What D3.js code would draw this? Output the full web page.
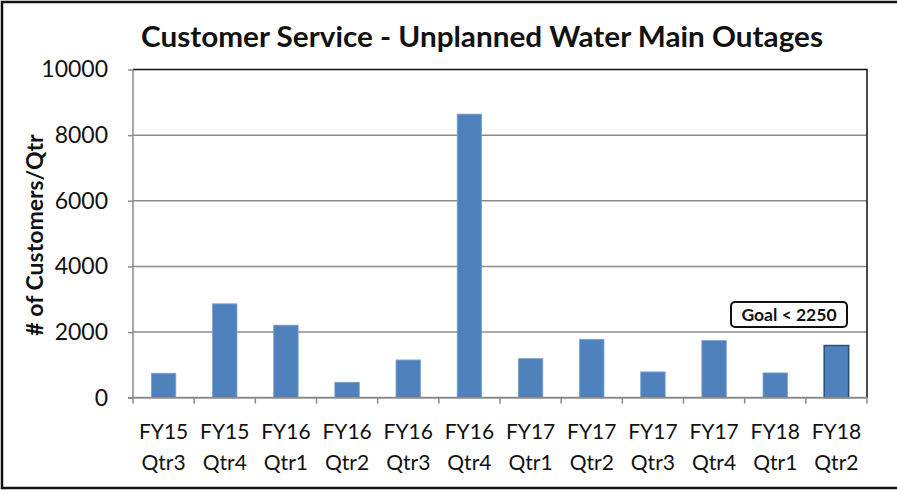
<!DOCTYPE html>
<html>
<head>
<meta charset="utf-8">
<script src="https://cdn.jsdelivr.net/npm/d3@7"></script>
<style>
  body { margin: 0; background: #fff; }
  svg { display: block; font-family: Lato, "Open Sans", sans-serif; }
</style>
</head>
<body>
<svg id="chart"></svg>
<script>
var fy = ['FY15','FY15','FY16','FY16','FY16','FY16','FY17','FY17','FY17','FY17','FY18','FY18'];
var qtr = ['Qtr3','Qtr4','Qtr1','Qtr2','Qtr3','Qtr4','Qtr1','Qtr2','Qtr3','Qtr4','Qtr1','Qtr2'];
var customers = [745, 2860, 2210, 470, 1150, 8640, 1190, 1780, 785, 1740, 755, 1590];
var yticks = [0, 2000, 4000, 6000, 8000, 10000];

var width = 897;
var height = 490;
var margin = {top:69.5, right:30, bottom:92.3, left:133};

var svg = d3.select('#chart')
    .attr('width', width)
    .attr('height', height);

// outer frame
svg.append('rect')
    .attr('x', 2).attr('y', 2)
    .attr('width', width + 10).attr('height', 486)
    .attr('fill', 'white')
    .attr('stroke', '#111')
    .attr('stroke-width', 2.5);

const inner_width = width - margin.left - margin.right;
const inner_height = height - margin.top - margin.bottom;

var chart = svg.append('g')
    .attr('transform', `translate(${margin.left}, ${margin.top})`);

var cats = d3.range(customers.length);

const xscale = d3.scaleBand()
    .domain(cats)
    .range([0, inner_width])
    .paddingInner(0.6)
    .paddingOuter(0.3);

const yscale = d3.scaleLinear()
    .domain([0, 10000])
    .range([inner_height, 0]);

// gridlines
chart.append('g')
    .selectAll('line')
    .data(yticks.slice(1, -1))
    .join('line')
    .attr('x1', 0).attr('x2', inner_width)
    .attr('y1', d => yscale(d)).attr('y2', d => yscale(d))
    .attr('stroke', '#8c8c8c')
    .attr('stroke-width', 1.5);

// top and right plot border
chart.append('path')
    .attr('d', `M0,${yscale(10000)}H${inner_width}V${inner_height}`)
    .attr('fill', 'none')
    .attr('stroke', '#111')
    .attr('stroke-width', 1.5);

// bars
chart.append('g')
    .selectAll('rect')
    .data(customers)
    .join('rect')
    .attr('x', (d, i) => xscale(i))
    .attr('y', d => yscale(d))
    .attr('width', xscale.bandwidth())
    .attr('height', d => inner_height - yscale(d))
    .attr('fill', '#4f81bd')
    .attr('stroke', (d, i) => i == customers.length - 1 ? '#2c4d75' : '#7ea3d2')
    .attr('stroke-width', (d, i) => i == customers.length - 1 ? 1.5 : 0.8);

// y axis
const yaxis = d3.axisLeft(yscale)
    .tickValues(yticks)
    .tickSize(5)
    .tickPadding(20)
    .tickFormat(d3.format('d'));

const yaxis_group = chart.append('g').call(yaxis);
yaxis_group.select('.domain').attr('stroke', '#8c8c8c').attr('stroke-width', 1.5)
    .attr('d', `M-5,${inner_height}H0V0`);
yaxis_group.selectAll('.tick line').attr('stroke', '#8c8c8c').attr('stroke-width', 1.5);
yaxis_group.selectAll('.tick text')
    .attr('font-family', 'Lato, sans-serif')
    .attr('font-size', 23)
    .attr('fill', '#111');

// x axis: ticks at category boundaries
const step = xscale.step();
chart.append('line')
    .attr('x1', 0).attr('x2', inner_width)
    .attr('y1', inner_height).attr('y2', inner_height)
    .attr('stroke', '#8c8c8c').attr('stroke-width', 2);
chart.append('g')
    .selectAll('line')
    .data(d3.range(customers.length + 1))
    .join('line')
    .attr('x1', d => d * step).attr('x2', d => d * step)
    .attr('y1', inner_height).attr('y2', inner_height + 6)
    .attr('stroke', '#8c8c8c').attr('stroke-width', 1.5);

var xlab = chart.append('g')
    .selectAll('text')
    .data(cats)
    .join('text')
    .attr('text-anchor', 'middle')
    .attr('font-size', 21)
    .attr('fill', '#111');
xlab.append('tspan')
    .attr('x', d => xscale(d) + xscale.bandwidth() / 2)
    .attr('y', inner_height + 41)
    .text(d => fy[d]);
xlab.append('tspan')
    .attr('x', d => xscale(d) + xscale.bandwidth() / 2)
    .attr('y', inner_height + 72)
    .text(d => qtr[d]);

// y axis title
svg.append('text')
    .attr('transform', 'translate(43, 235) rotate(-90)')
    .attr('text-anchor', 'middle')
    .attr('font-size', 23)
    .attr('font-weight', 'bold')
    .attr('fill', '#111')
    .text('# of Customers/Qtr');

// title
svg.append('text')
    .attr('x', 482)
    .attr('y', 47)
    .attr('text-anchor', 'middle')
    .attr('font-size', 28)
    .attr('font-weight', 'bold')
    .attr('textLength', 682)
    .attr('lengthAdjust', 'spacingAndGlyphs')
    .attr('fill', '#111')
    .text('Customer Service - Unplanned Water Main Outages');

// goal callout
var goal = svg.append('g').attr('transform', 'translate(731, 302)');
goal.append('rect')
    .attr('width', 116).attr('height', 25)
    .attr('rx', 4)
    .attr('fill', 'white')
    .attr('stroke', '#111')
    .attr('stroke-width', 2);
goal.append('text')
    .attr('x', 58).attr('y', 18.5)
    .attr('text-anchor', 'middle')
    .attr('font-size', 17.5)
    .attr('font-weight', 'bold')
    .attr('fill', '#111')
    .text('Goal < 2250');
</script>
</body>
</html>
